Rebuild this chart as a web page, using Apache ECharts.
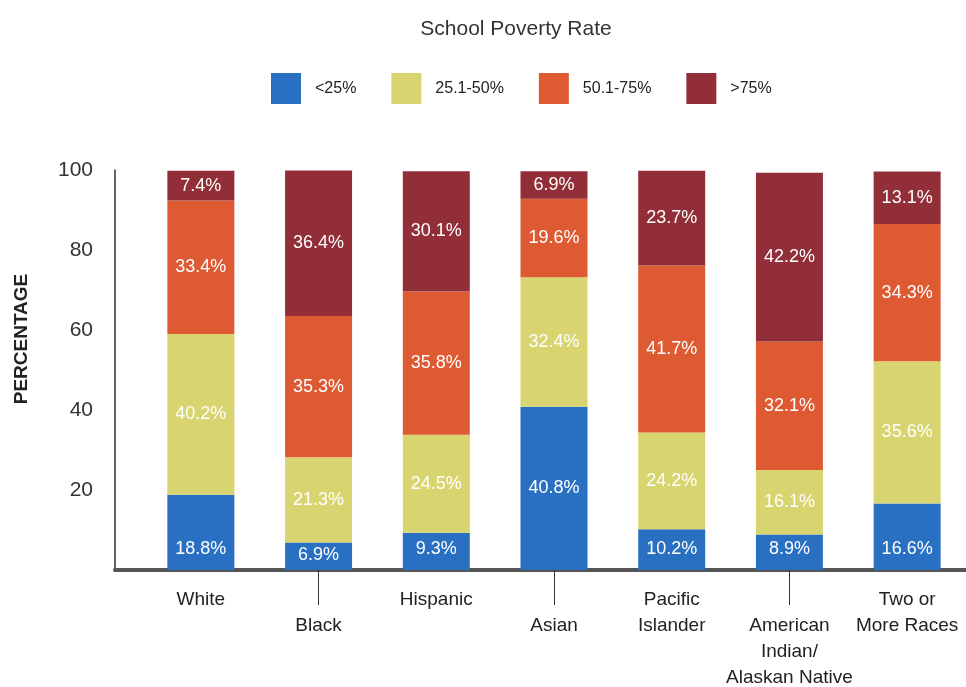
<!DOCTYPE html>
<html>
<head>
<meta charset="utf-8">
<script src="https://cdn.jsdelivr.net/npm/echarts@6/dist/echarts.min.js"></script>
<style>
html,body{margin:0;padding:0;background:#fff;}
#chart{width:966px;height:687px;}
</style>
</head>
<body>
<div id="chart"></div>
<script>
const categories = ['White', 'Black', 'Hispanic', 'Asian', 'Pacific\nIslander', 'American\nIndian/\nAlaskan Native', 'Two or\nMore Races'];
const seriesNames = ['<25%', '25.1-50%', '50.1-75%', '>75%'];
const under25 = [18.8, 6.9, 9.3, 40.8, 10.2, 8.9, 16.6];
const from25to50 = [40.2, 21.3, 24.5, 32.4, 24.2, 16.1, 35.6];
const from50to75 = [33.4, 35.3, 35.8, 19.6, 41.7, 32.1, 34.3];
const over75 = [7.4, 36.4, 30.1, 6.9, 23.7, 42.2, 13.1];
const yTicks = [0, 20, 40, 60, 80, 100];

const colors = ['#2a70c2', '#d8d570', '#dd5a33', '#912e37'];
const seriesValues = [under25, from25to50, from50to75, over75];
const FONT = "'Liberation Sans', Arial, sans-serif";

const labelBase = {
  show: true,
  color: '#ffffff',
  fontFamily: FONT,
  fontSize: 18,
  formatter: p => p.value + '%'
};

const series = seriesNames.map((name, si) => ({
  name: name,
  type: 'bar',
  stack: 'total',
  xAxisIndex: 0,
  yAxisIndex: 0,
  barWidth: 67,
  itemStyle: { color: colors[si] },
  label: Object.assign({}, labelBase, { position: 'inside' }),
  data: seriesValues[si].map(v => {
    if (si === 0 && v < 30) {
      return { value: v, label: { position: 'insideBottom', distance: v < 8 ? 6 : 12 } };
    }
    return v;
  })
}));

const chart = echarts.init(document.getElementById('chart'));
chart.setOption({
  backgroundColor: '#ffffff',
  animation: false,
  title: {
    text: 'School Poverty Rate',
    left: 511,
    textAlign: 'center',
    top: 14,
    textStyle: { fontFamily: FONT, fontSize: 21, fontWeight: 'normal', color: '#333' }
  },
  legend: {
    data: seriesNames,
    left: 266,
    top: 68,
    icon: 'rect',
    itemWidth: 30,
    itemHeight: 31,
    itemGap: 35,
    textStyle: { fontFamily: FONT, fontSize: 16, color: '#222', padding: [0, 0, 2, 9] }
  },
  grid: [
    { left: 142, right: 0, top: 170, bottom: 117, outerBoundsMode: 'none', containLabel: false },
    { left: 115, right: 0, top: 170, bottom: 117, outerBoundsMode: 'none', containLabel: false }
  ],
  xAxis: [
    {
      type: 'category',
      gridIndex: 0,
      data: categories,
      axisLine: { show: false },
      axisTick: {
        show: true,
        alignWithLabel: true,
        interval: (i) => i % 2 === 1,
        length: 35,
        lineStyle: { color: '#333', width: 1 }
      },
      axisLabel: {
        interval: 0,
        margin: 17,
        color: '#222',
        fontFamily: FONT,
        fontSize: 19,
        lineHeight: 26,
        verticalAlign: 'top',
        formatter: (v, i) => (i % 2 === 1 ? '\n' + v : v)
      }
    },
    {
      type: 'value',
      gridIndex: 1,
      min: 0,
      max: 1,
      axisLine: { show: true, lineStyle: { color: '#555', width: 4 } },
      axisTick: { show: false },
      axisLabel: { show: false },
      splitLine: { show: false }
    }
  ],
  yAxis: [
    {
      type: 'value',
      gridIndex: 0,
      min: 0,
      max: 100,
      interval: 20,
      show: false
    },
    {
      type: 'value',
      gridIndex: 1,
      min: yTicks[0],
      max: yTicks[yTicks.length - 1],
      interval: 20,
      name: 'PERCENTAGE',
      nameLocation: 'middle',
      nameGap: 84,
      nameTextStyle: { fontFamily: FONT, fontWeight: 'bold', fontSize: 19, color: '#222', padding: [0, 0, 0, 62] },
      axisLine: { show: true, lineStyle: { color: '#333', width: 1.5 } },
      axisTick: { show: false },
      splitLine: { show: false },
      axisLabel: {
        margin: 22,
        color: '#333',
        fontFamily: FONT,
        fontSize: 21,
        formatter: v => (v === 0 ? '' : String(v))
      }
    }
  ],
  series: series
});
</script>
</body>
</html>
